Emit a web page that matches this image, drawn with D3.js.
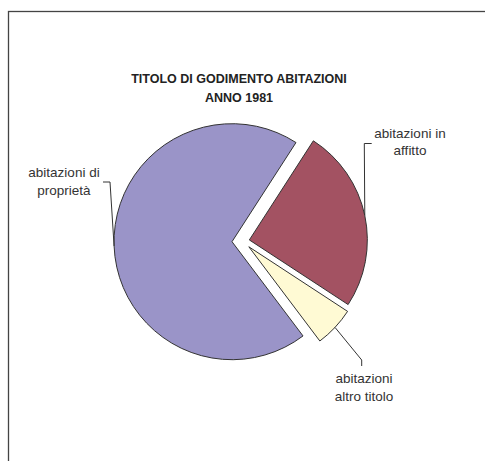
<!DOCTYPE html>
<html><head><meta charset="utf-8">
<script src="https://cdn.jsdelivr.net/npm/d3@7"></script>
<style>body{margin:0;background:#fff}svg{display:block}</style>
</head><body><svg id="c" width="485" height="461"></svg>
<script>
// ---- data ----
const categories = ["abitazioni di proprietà", "abitazioni in affitto", "abitazioni altro titolo"];
const labelLines = [["abitazioni di", "proprietà"], ["abitazioni in", "affitto"], ["abitazioni", "altro titolo"]];
const values = [69.4, 25.1, 5.5];
const colors = ["#9a94c8", "#a35262", "#fffad4"];
const titleLines = ["TITOLO DI GODIMENTO ABITAZIONI", "ANNO 1981"];

// ---- layout ----
const W = 485, H = 461;
const cx = 243, cy = 241.3, R = 118;
const explode = [11, 6.5, 8];
const startDeg = 143;
const labelPos = [
  {x: 64, y: 177, elbow: [[103, 182], [110, 182]]},
  {x: 410, y: 137.5, elbow: [[371.7, 143.5], [364.3, 143.5]]},
  {x: 364, y: 383.3, elbow: [[361.7, 366], [361.7, 360]]}
];
const lineH = 17.7;

const svg = d3.select("#c");
svg.append("rect").attr("x", 8.5).attr("y", 11.5).attr("width", 600).attr("height", 600)
  .attr("fill", "none").attr("stroke", "#444").attr("stroke-width", 1.3);

const t = svg.append("text").attr("text-anchor", "middle")
  .attr("font-family", "Liberation Sans, Arial, sans-serif").attr("font-weight", "bold")
  .attr("font-size", 12.5).attr("fill", "#222");
titleLines.forEach((s, i) => t.append("tspan").attr("x", 239).attr("y", 82.5 + i * 19).text(s));

const data = categories.map((c, i) => ({c, v: values[i], i}));
const a0 = startDeg * Math.PI / 180;
const pie = d3.pie().value(d => d.v).sort(null).startAngle(a0).endAngle(a0 + 2 * Math.PI);
const arcs = pie(data);
const arc = d3.arc().innerRadius(0).outerRadius(R);

const g = svg.append("g");
arcs.forEach((a, k) => {
  const m = (a.startAngle + a.endAngle) / 2;
  const ox = cx + explode[k] * Math.sin(m), oy = cy - explode[k] * Math.cos(m);
  g.append("path").attr("d", arc(a)).attr("transform", `translate(${ox},${oy})`)
    .attr("fill", colors[k]).attr("stroke", "#333").attr("stroke-width", 1)
    .attr("stroke-linejoin", "miter");
  // leader line
  const ex = ox + R * Math.sin(m), ey = oy - R * Math.cos(m);
  const L = labelPos[k];
  const pts = L.elbow.concat([[ex, ey]]);
  svg.append("path").attr("d", d3.line()(pts)).attr("fill", "none")
    .attr("stroke", "#333").attr("stroke-width", 1);
  const tx = svg.append("text").attr("text-anchor", "middle")
    .attr("font-family", "Liberation Sans, Arial, sans-serif").attr("font-size", 13.5).attr("fill", "#333");
  labelLines[k].forEach((s, j) => tx.append("tspan").attr("x", L.x).attr("y", L.y + j * lineH).text(s));
});
</script></body></html>
